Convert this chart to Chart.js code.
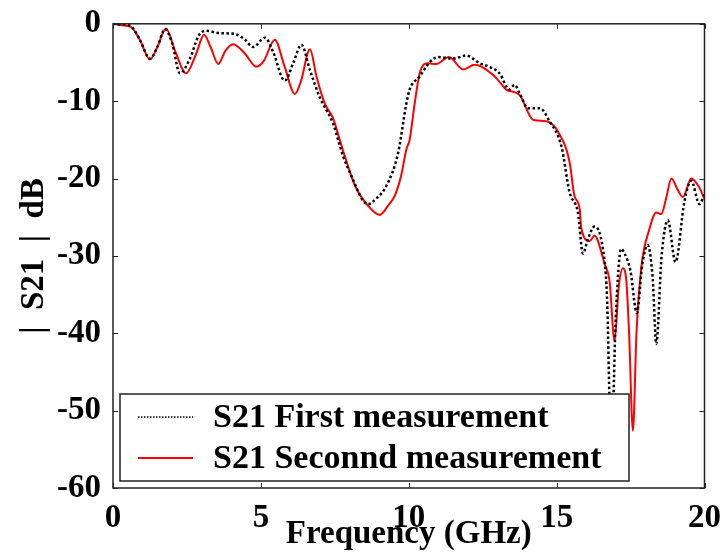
<!DOCTYPE html>
<html>
<head>
<meta charset="utf-8">
<script src="https://cdn.jsdelivr.net/npm/chart.js@4"></script>
<style>
  body { margin: 0; background: #fff; }
</style>
</head>
<body>
<canvas id="grafico" width="724" height="554"></canvas>
<script>
// Datos
const freqPrimera = [0, 0.3, 0.6, 0.9, 1.25, 1.5, 1.76, 2.0, 2.26, 2.6, 2.9, 3.14, 3.6, 4.1, 4.45, 4.74, 5.14, 5.4, 5.81, 6.1, 6.37, 6.66, 6.99, 7.43, 7.78, 8.1, 8.46, 8.63, 8.9, 9.25, 9.64, 9.92, 10.03, 10.37, 10.7, 11.0, 11.5, 11.95, 12.4, 12.75, 13.07, 13.4, 13.58, 13.75, 14.03, 14.43, 14.76, 15.16, 15.44, 15.72, 15.89, 16.06, 16.28, 16.56, 16.7, 16.85, 17.0, 17.18, 17.3, 17.5, 17.71, 17.9, 18.08, 18.25, 18.37, 18.55, 18.76, 19.02, 19.32, 19.55, 19.83, 20];
const dbPrimera = [0, -0.1, -0.3, -2.0, -4.5, -3.0, -0.7, -2.5, -6.4, -4.5, -1.5, -0.9, -1.2, -1.3, -2.0, -3.0, -1.8, -3.5, -7.35, -5.0, -2.7, -6.0, -9.5, -12.8, -17.1, -20.0, -22.9, -23.3, -22.6, -20.9, -16.7, -10.3, -8.5, -6.8, -5.0, -4.3, -4.5, -4.1, -5.1, -5.6, -6.4, -8.5, -7.9, -9.0, -10.9, -10.9, -12.6, -15.8, -21.8, -24.4, -29.7, -27.8, -26.2, -29.0, -35, -55, -38, -29.1, -29.7, -32, -37.4, -31, -28.6, -33, -41.4, -30, -25.4, -30.8, -23, -20.3, -23.3, -22];

const freqSegunda = [0, 0.3, 0.6, 0.9, 1.25, 1.5, 1.79, 2.1, 2.47, 2.8, 3.08, 3.3, 3.56, 3.8, 4.06, 4.45, 4.85, 5.1, 5.47, 5.8, 6.15, 6.35, 6.66, 6.88, 7.16, 7.44, 7.73, 8.18, 8.62, 9.02, 9.3, 9.53, 9.75, 9.92, 10.03, 10.2, 10.37, 10.65, 10.93, 11.36, 11.84, 12.23, 12.85, 13.07, 13.3, 13.75, 14.2, 14.65, 15.04, 15.44, 15.6, 15.78, 15.83, 16.11, 16.28, 16.62, 16.79, 16.96, 17.1, 17.24, 17.35, 17.45, 17.58, 17.7, 17.86, 18.14, 18.37, 18.54, 18.7, 18.88, 19.1, 19.27, 19.55, 19.8, 20];
const dbSegunda = [0, -0.2, -0.4, -2.0, -4.6, -3.0, -0.6, -3.5, -6.4, -4.0, -1.4, -3.0, -5.2, -3.5, -2.65, -3.8, -5.55, -4.8, -2.05, -5.5, -9.06, -7.5, -3.3, -6.8, -10.3, -12.2, -15.8, -20.9, -23.5, -24.7, -23.5, -22.2, -19.5, -16.2, -15, -10.3, -6.4, -5.1, -5.2, -4.3, -5.9, -5.3, -6.6, -7.5, -8.5, -9.2, -12.4, -12.6, -13.9, -17.9, -22.2, -23.9, -26.3, -28.1, -27.4, -31, -33.3, -41, -34, -31.6, -32.9, -40, -52.6, -40, -31.6, -26.5, -24.4, -24.6, -22.6, -20, -21.5, -22.4, -20, -21, -22.6];

const ticksX = [0, 5, 10, 15, 20];
const ticksY = [0, -10, -20, -30, -40, -50, -60];
const etiquetas = ['S21 First measurement', 'S21 Seconnd measurement'];

const fuente = "'Liberation Serif', 'Times New Roman', serif";

function puntos(xs, ys) {
    return xs.map((x, i) => ({ x: x, y: ys[i] }));
}

// marco con marcas hacia adentro
const marcoPlugin = {
    id: 'marco',
    afterDatasetsDraw(chart) {
        const { ctx, chartArea: a, scales } = chart;
        ctx.save();
        ctx.strokeStyle = '#222';
        ctx.lineWidth = 1.5;
        ctx.strokeRect(a.left, a.top, a.right - a.left, a.bottom - a.top);
        ctx.lineWidth = 1;
        ctx.beginPath();
        ticksX.forEach(v => {
            const px = Math.round(scales.x.getPixelForValue(v)) + 0.5;
            ctx.moveTo(px, a.bottom); ctx.lineTo(px, a.bottom - 5);
            ctx.moveTo(px, a.top); ctx.lineTo(px, a.top + 5);
        });
        ticksY.forEach(v => {
            const py = Math.round(scales.y.getPixelForValue(v)) + 0.5;
            ctx.moveTo(a.left, py); ctx.lineTo(a.left + 5, py);
            ctx.moveTo(a.right, py); ctx.lineTo(a.right - 5, py);
        });
        ctx.stroke();
        ctx.restore();
    }
};

// leyenda dentro del gráfico, con fondo blanco
const leyendaPlugin = {
    id: 'leyenda',
    afterDatasetsDraw(chart) {
        const { ctx, chartArea: a } = chart;
        const x0 = a.left + 7, y1 = a.bottom - 7;
        const w = 509, h = 87;
        const y0 = y1 - h;
        ctx.save();
        ctx.fillStyle = '#fff';
        ctx.fillRect(x0, y0, w, h);
        ctx.strokeStyle = '#222';
        ctx.lineWidth = 1.5;
        ctx.strokeRect(x0, y0, w, h);
        ctx.font = 'bold 34px ' + fuente;
        ctx.textBaseline = 'middle';
        ctx.fillStyle = '#000';
        chart.data.datasets.forEach((ds, i) => {
            const yy = y0 + 23 + i * 41;
            ctx.beginPath();
            ctx.strokeStyle = ds.borderColor;
            ctx.lineWidth = i === 0 ? 1.5 : 2;
            ctx.setLineDash(i === 0 ? [1.5, 1.5] : []);
            ctx.moveTo(x0 + 18, yy);
            ctx.lineTo(x0 + 73, yy);
            ctx.stroke();
            ctx.setLineDash([]);
            ctx.fillText(etiquetas[i], x0 + 93, yy + 1);
        });
        ctx.restore();
    }
};

new Chart(document.getElementById('grafico'), {
    type: 'line',
    data: {
        datasets: [{
            label: etiquetas[0],
            data: puntos(freqPrimera, dbPrimera),
            borderColor: '#000',
            borderWidth: 2.5,
            borderDash: [2.5, 2.5],
            pointRadius: 0,
            cubicInterpolationMode: 'monotone'
        }, {
            label: etiquetas[1],
            data: puntos(freqSegunda, dbSegunda),
            borderColor: '#ff0000',
            borderWidth: 2,
            pointRadius: 0,
            cubicInterpolationMode: 'monotone'
        }]
    },
    options: {
        responsive: false,
        animation: false,
        devicePixelRatio: 1,
        layout: { padding: { top: 20, right: 19, left: 0, bottom: 0 } },
        plugins: {
            legend: { display: false },
            tooltip: { enabled: false }
        },
        scales: {
            x: {
                type: 'linear',
                min: 0,
                max: 20,
                afterBuildTicks: s => { s.ticks = ticksX.map(v => ({ value: v })); },
                afterFit: s => { s.height = 66; },
                grid: { display: false },
                border: { display: false },
                ticks: {
                    color: '#000',
                    padding: 3,
                    maxRotation: 0,
                    font: { family: fuente, size: 33, weight: 'bold' }
                },
                title: {
                    display: true,
                    text: 'Frequency (GHz)',
                    color: '#000',
                    padding: { top: 0, bottom: 0 },
                    font: { family: fuente, size: 33, weight: 'bold', lineHeight: 1.2 }
                }
            },
            y: {
                min: -60,
                max: 0,
                afterBuildTicks: s => { s.ticks = ticksY.map(v => ({ value: v })); },
                afterFit: s => { s.width = 113; },
                grid: { display: false },
                border: { display: false },
                ticks: {
                    color: '#000',
                    padding: 4,
                    font: { family: fuente, size: 33, weight: 'bold' }
                },
                title: {
                    display: true,
                    text: '|  S21  |  dB',
                    color: '#000',
                    padding: { top: 15, bottom: 0 },
                    font: { family: fuente, size: 33, weight: 'bold', lineHeight: 1.2 }
                }
            }
        }
    },
    plugins: [marcoPlugin, leyendaPlugin]
});
</script>
</body>
</html>
